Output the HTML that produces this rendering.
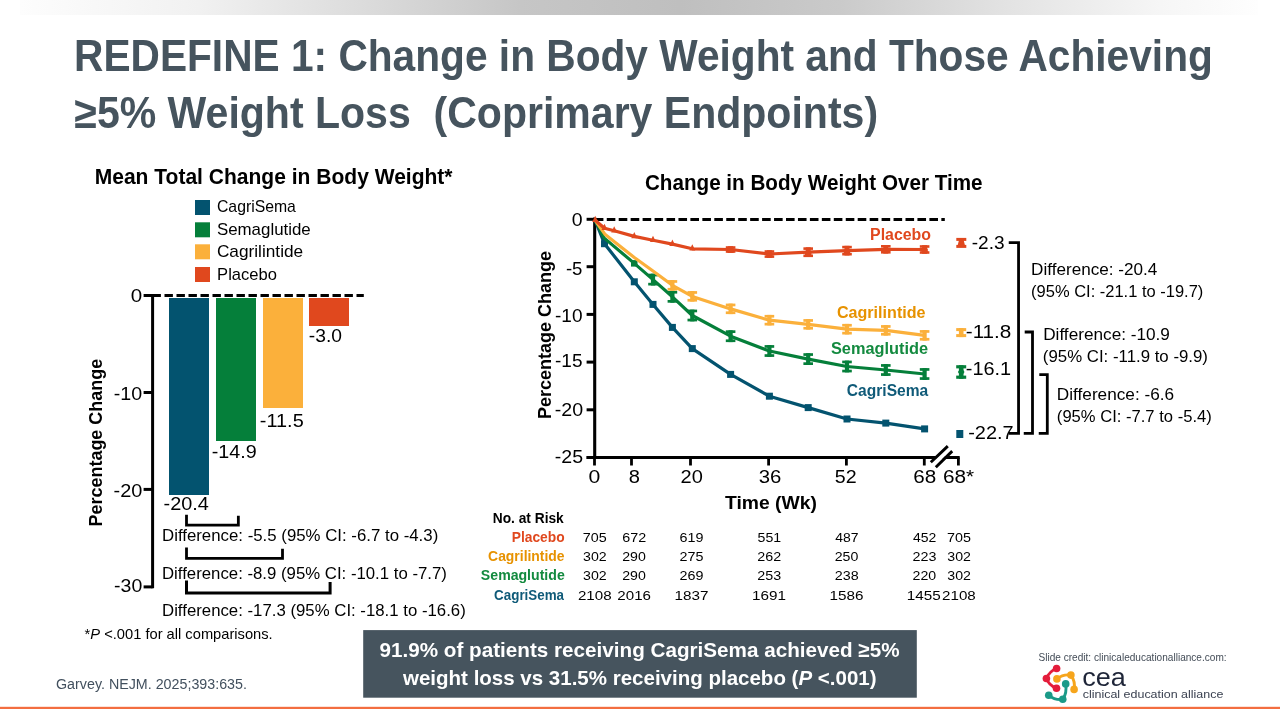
<!DOCTYPE html>
<html><head><meta charset="utf-8"><style>html,body{margin:0;padding:0;background:#fff;width:1280px;height:720px;overflow:hidden}svg text{white-space:pre}</style></head>
<body><svg width="1280" height="720" viewBox="0 0 1280 720" font-family="'Liberation Sans', sans-serif" style="display:block;will-change:transform">
<defs><linearGradient id="g1" x1="0" x2="1" y1="0" y2="0"><stop offset="0" stop-color="#fdfdfd"/><stop offset="0.145" stop-color="#f1f1f1"/><stop offset="0.275" stop-color="#dcdcdc"/><stop offset="0.404" stop-color="#c6c6c6"/><stop offset="0.533" stop-color="#bfbfbf"/><stop offset="0.662" stop-color="#cacaca"/><stop offset="0.792" stop-color="#e2e2e2"/><stop offset="0.921" stop-color="#f6f6f6"/><stop offset="1" stop-color="#fefefe"/></linearGradient></defs>
<rect x="20" y="0" width="1238" height="15" fill="url(#g1)"/>
<rect x="195" y="200" width="15" height="15" fill="#03536F"/>
<rect x="195" y="222.3" width="15" height="15" fill="#057F3A"/>
<rect x="195" y="244.3" width="15" height="15" fill="#FBB03B"/>
<rect x="195" y="267" width="15" height="15" fill="#E0481E"/>
<rect x="169" y="298" width="40" height="197.0" fill="#03536F"/>
<rect x="216" y="298" width="40" height="143.0" fill="#057F3A"/>
<rect x="263" y="298" width="40" height="110.0" fill="#FBB03B"/>
<rect x="309" y="298" width="40" height="28.0" fill="#E0481E"/>
<path d="M152.6,294 V588.2" stroke="#000" stroke-width="3" fill="none"/>
<path d="M143.6,295.5 H152.6" stroke="#000" stroke-width="3"/>
<path d="M143.6,392.5 H152.6" stroke="#000" stroke-width="3"/>
<path d="M143.6,489.4 H152.6" stroke="#000" stroke-width="3"/>
<path d="M143.6,586.9 H152.6" stroke="#000" stroke-width="3"/>
<path d="M152.5,295.5 H363.8" stroke="#000" stroke-width="3" stroke-dasharray="8.4 3.6"/>
<path d="M186.5,514.7 V525.2 H238.35 V515.8" stroke="#000" stroke-width="2.8" fill="none"/>
<path d="M186.5,547.5 V558.35 H282.5 V548.7" stroke="#000" stroke-width="2.8" fill="none"/>
<path d="M186.5,580.5 V593.1 H330.1 V582" stroke="#000" stroke-width="3" fill="none"/>
<path d="M594.8,219.5 H944.8" stroke="#000" stroke-width="2.8" stroke-dasharray="8.6 3.35"/>
<path d="M594.7,217.5 V459" stroke="#000" stroke-width="3.1" fill="none"/>
<path d="M586.6,219.3 H594.7" stroke="#000" stroke-width="3"/>
<path d="M586.6,266.7 H594.7" stroke="#000" stroke-width="3"/>
<path d="M586.6,314.4 H594.7" stroke="#000" stroke-width="3"/>
<path d="M586.6,362.1 H594.7" stroke="#000" stroke-width="3"/>
<path d="M586.6,409.8 H594.7" stroke="#000" stroke-width="3"/>
<path d="M586.6,457.5 H594.7" stroke="#000" stroke-width="3"/>
<path d="M586.6,457.6 H959.7" stroke="#000" stroke-width="3"/>
<path d="M594.5,457.5 V465.5" stroke="#000" stroke-width="2.8"/>
<path d="M631.5,457.5 V465.5" stroke="#000" stroke-width="2.8"/>
<path d="M690.5,457.5 V465.5" stroke="#000" stroke-width="2.8"/>
<path d="M768.6,457.5 V465.5" stroke="#000" stroke-width="2.8"/>
<path d="M846.4,457.5 V465.5" stroke="#000" stroke-width="2.8"/>
<path d="M924.3,457.5 V465.5" stroke="#000" stroke-width="2.8"/>
<path d="M958.4,457.5 V465.5" stroke="#000" stroke-width="2.8"/>
<path d="M932.3,465.3 L951,447.4" stroke="#fff" stroke-width="4.6"/>
<path d="M930.8,462.2 L947.8,446.1 M935.8,467.2 L952.2,451.1" stroke="#000" stroke-width="2.9"/>
<path d="M595.2,220.3 L604.5,243.7 L634.3,281.8 L653.0,304.4 L672.4,327.4 L692.3,348.6 L730.6,374.4 L769.4,396.2 L808.2,407.6 L847.0,419.0 L885.8,423.1 L924.6,428.9" stroke="#03536F" stroke-width="3.2" fill="none" stroke-linejoin="round"/>
<rect x="601.0" y="240.2" width="7" height="7" fill="#03536F"/>
<rect x="630.8" y="278.3" width="7" height="7" fill="#03536F"/>
<rect x="649.5" y="300.9" width="7" height="7" fill="#03536F"/>
<rect x="668.9" y="323.9" width="7" height="7" fill="#03536F"/>
<rect x="688.8" y="345.1" width="7" height="7" fill="#03536F"/>
<rect x="727.1" y="370.9" width="7" height="7" fill="#03536F"/>
<rect x="765.9" y="392.7" width="7" height="7" fill="#03536F"/>
<rect x="804.7" y="404.1" width="7" height="7" fill="#03536F"/>
<rect x="843.5" y="415.5" width="7" height="7" fill="#03536F"/>
<rect x="882.3" y="419.6" width="7" height="7" fill="#03536F"/>
<rect x="921.1" y="425.4" width="7" height="7" fill="#03536F"/>
<path d="M595.2,220.3 L604.0,237.9 L634.3,263.4 L653.0,279.6 L672.4,296.8 L692.3,315.5 L730.6,336.2 L769.4,351.0 L808.2,359.1 L847.0,366.5 L885.8,370.0 L924.6,374.0" stroke="#057F3A" stroke-width="3.2" fill="none" stroke-linejoin="round"/>
<rect x="631.0" y="260.1" width="6.5" height="6.5" fill="#057F3A"/>
<rect x="648.2" y="273.7" width="9.6" height="2.7" fill="#057F3A"/><rect x="648.2" y="282.8" width="9.6" height="2.7" fill="#057F3A"/><rect x="650.9" y="273.7" width="4.2" height="11.8" fill="#057F3A"/>
<rect x="667.6" y="290.9" width="9.6" height="2.7" fill="#057F3A"/><rect x="667.6" y="300.0" width="9.6" height="2.7" fill="#057F3A"/><rect x="670.3" y="290.9" width="4.2" height="11.8" fill="#057F3A"/>
<rect x="687.5" y="309.6" width="9.6" height="2.7" fill="#057F3A"/><rect x="687.5" y="318.7" width="9.6" height="2.7" fill="#057F3A"/><rect x="690.2" y="309.6" width="4.2" height="11.8" fill="#057F3A"/>
<rect x="725.8" y="330.3" width="9.6" height="2.7" fill="#057F3A"/><rect x="725.8" y="339.4" width="9.6" height="2.7" fill="#057F3A"/><rect x="728.5" y="330.3" width="4.2" height="11.8" fill="#057F3A"/>
<rect x="764.6" y="345.1" width="9.6" height="2.7" fill="#057F3A"/><rect x="764.6" y="354.2" width="9.6" height="2.7" fill="#057F3A"/><rect x="767.3" y="345.1" width="4.2" height="11.8" fill="#057F3A"/>
<rect x="803.4" y="353.2" width="9.6" height="2.7" fill="#057F3A"/><rect x="803.4" y="362.3" width="9.6" height="2.7" fill="#057F3A"/><rect x="806.1" y="353.2" width="4.2" height="11.8" fill="#057F3A"/>
<rect x="842.2" y="360.6" width="9.6" height="2.7" fill="#057F3A"/><rect x="842.2" y="369.7" width="9.6" height="2.7" fill="#057F3A"/><rect x="844.9" y="360.6" width="4.2" height="11.8" fill="#057F3A"/>
<rect x="881.0" y="364.1" width="9.6" height="2.7" fill="#057F3A"/><rect x="881.0" y="373.2" width="9.6" height="2.7" fill="#057F3A"/><rect x="883.7" y="364.1" width="4.2" height="11.8" fill="#057F3A"/>
<rect x="919.8" y="368.1" width="9.6" height="2.7" fill="#057F3A"/><rect x="919.8" y="377.2" width="9.6" height="2.7" fill="#057F3A"/><rect x="922.5" y="368.1" width="4.2" height="11.8" fill="#057F3A"/>
<path d="M595.2,220.3 L605.2,234.6 L634.3,257.5 L653.0,271.0 L672.4,285.3 L692.3,296.4 L730.6,308.9 L769.4,320.2 L808.2,324.3 L847.0,329.2 L885.8,330.4 L924.6,335.3" stroke="#FBB03B" stroke-width="3.2" fill="none" stroke-linejoin="round"/>
<rect x="667.6" y="280.1" width="9.6" height="2.7" fill="#FBB03B"/><rect x="667.6" y="287.9" width="9.6" height="2.7" fill="#FBB03B"/><rect x="670.3" y="280.1" width="4.2" height="10.5" fill="#FBB03B"/>
<rect x="687.5" y="291.1" width="9.6" height="2.7" fill="#FBB03B"/><rect x="687.5" y="298.9" width="9.6" height="2.7" fill="#FBB03B"/><rect x="690.2" y="291.1" width="4.2" height="10.5" fill="#FBB03B"/>
<rect x="725.8" y="303.6" width="9.6" height="2.7" fill="#FBB03B"/><rect x="725.8" y="311.4" width="9.6" height="2.7" fill="#FBB03B"/><rect x="728.5" y="303.6" width="4.2" height="10.5" fill="#FBB03B"/>
<rect x="764.6" y="314.9" width="9.6" height="2.7" fill="#FBB03B"/><rect x="764.6" y="322.8" width="9.6" height="2.7" fill="#FBB03B"/><rect x="767.3" y="314.9" width="4.2" height="10.5" fill="#FBB03B"/>
<rect x="803.4" y="319.1" width="9.6" height="2.7" fill="#FBB03B"/><rect x="803.4" y="326.9" width="9.6" height="2.7" fill="#FBB03B"/><rect x="806.1" y="319.1" width="4.2" height="10.5" fill="#FBB03B"/>
<rect x="842.2" y="323.9" width="9.6" height="2.7" fill="#FBB03B"/><rect x="842.2" y="331.8" width="9.6" height="2.7" fill="#FBB03B"/><rect x="844.9" y="323.9" width="4.2" height="10.5" fill="#FBB03B"/>
<rect x="881.0" y="325.1" width="9.6" height="2.7" fill="#FBB03B"/><rect x="881.0" y="332.9" width="9.6" height="2.7" fill="#FBB03B"/><rect x="883.7" y="325.1" width="4.2" height="10.5" fill="#FBB03B"/>
<rect x="919.8" y="330.1" width="9.6" height="2.7" fill="#FBB03B"/><rect x="919.8" y="337.9" width="9.6" height="2.7" fill="#FBB03B"/><rect x="922.5" y="330.1" width="4.2" height="10.5" fill="#FBB03B"/>
<path d="M595.2,220.3 L604.5,228.2 L614.2,230.8 L634.3,236.4 L653.0,240.2 L672.4,244.1 L692.3,248.8 L730.6,249.5 L769.4,254.0 L808.2,252.2 L847.0,250.7 L885.8,249.3 L924.6,249.5" stroke="#E0481E" stroke-width="3.2" fill="none" stroke-linejoin="round"/>
<path d="M595.2,215.8 L598.2,222.1 L592.2,222.1 Z" fill="#E0481E"/>
<path d="M604.5,223.7 L607.5,230.0 L601.5,230.0 Z" fill="#E0481E"/>
<path d="M614.2,226.3 L617.2,232.6 L611.2,232.6 Z" fill="#E0481E"/>
<path d="M634.3,231.9 L637.3,238.2 L631.3,238.2 Z" fill="#E0481E"/>
<path d="M653.0,235.7 L656.0,242.0 L650.0,242.0 Z" fill="#E0481E"/>
<path d="M672.4,239.6 L675.4,245.9 L669.4,245.9 Z" fill="#E0481E"/>
<path d="M692.3,244.3 L695.3,250.6 L689.3,250.6 Z" fill="#E0481E"/>
<rect x="725.8" y="246.2" width="9.6" height="2.6" fill="#E0481E"/><rect x="725.8" y="250.2" width="9.6" height="2.6" fill="#E0481E"/><rect x="728.1" y="246.2" width="5" height="6.6" fill="#E0481E"/>
<rect x="727.4" y="248.6" width="6.4" height="4.2" fill="#E0481E"/>
<rect x="764.6" y="250.2" width="9.6" height="2.6" fill="#E0481E"/><rect x="764.6" y="255.3" width="9.6" height="2.6" fill="#E0481E"/><rect x="766.9" y="250.2" width="5" height="7.7" fill="#E0481E"/>
<rect x="766.2" y="253.1" width="6.4" height="4.2" fill="#E0481E"/>
<rect x="803.4" y="247.3" width="9.6" height="2.6" fill="#E0481E"/><rect x="803.4" y="254.5" width="9.6" height="2.6" fill="#E0481E"/><rect x="805.7" y="247.3" width="5" height="9.7" fill="#E0481E"/>
<rect x="805.0" y="251.3" width="6.4" height="4.2" fill="#E0481E"/>
<rect x="842.2" y="245.8" width="9.6" height="2.6" fill="#E0481E"/><rect x="842.2" y="252.9" width="9.6" height="2.6" fill="#E0481E"/><rect x="844.5" y="245.8" width="5" height="9.7" fill="#E0481E"/>
<rect x="843.8" y="249.8" width="6.4" height="4.2" fill="#E0481E"/>
<rect x="881.0" y="245.0" width="9.6" height="2.6" fill="#E0481E"/><rect x="881.0" y="251.0" width="9.6" height="2.6" fill="#E0481E"/><rect x="883.3" y="245.0" width="5" height="8.6" fill="#E0481E"/>
<rect x="882.6" y="248.4" width="6.4" height="4.2" fill="#E0481E"/>
<rect x="919.8" y="245.2" width="9.6" height="2.6" fill="#E0481E"/><rect x="919.8" y="251.2" width="9.6" height="2.6" fill="#E0481E"/><rect x="922.1" y="245.2" width="5" height="8.6" fill="#E0481E"/>
<rect x="921.4" y="248.6" width="6.4" height="4.2" fill="#E0481E"/>
<rect x="956.3" y="237.9" width="10" height="3" fill="#E0481E"/><rect x="956.3" y="244.9" width="10" height="3" fill="#E0481E"/><path d="M959,240 L963.6,240 L965,245.5 L957.6,245.5 Z" fill="#E0481E"/>
<rect x="956.2" y="328.1" width="10" height="3" fill="#FBB03B"/><rect x="956.2" y="334.1" width="10" height="3" fill="#FBB03B"/><rect x="958.9" y="328.1" width="4.6" height="9.0" fill="#FBB03B"/>
<rect x="956.2" y="365.2" width="10" height="3.2" fill="#057F3A"/><rect x="956.2" y="375.6" width="10" height="3.2" fill="#057F3A"/><rect x="958.9" y="365.2" width="4.6" height="13.6" fill="#057F3A"/>
<path d="M961.2,367 L964.5,372 L961.2,377 L957.9,372 Z" fill="#057F3A"/>
<rect x="956.3" y="430" width="7" height="8" fill="#03536F"/>
<path d="M1008.75,242.6 H1018.55 V433.3 H1008.75" stroke="#000" stroke-width="2.8" fill="none"/>
<path d="M1024.7,332 H1032.5 V433.3 H1023.75" stroke="#000" stroke-width="2.8" fill="none"/>
<path d="M1039.3,374.7 H1047.3 V433.3 H1038.75" stroke="#000" stroke-width="2.8" fill="none"/>
<rect x="363.2" y="630.1" width="553.6" height="67.6" fill="#46545E"/>
<rect x="0" y="706.8" width="1280" height="2.2" fill="#F36E40"/>
<path d="M1056.6,668.5 Q1049.24,671.24 1046.4,678.5 Q1048.98,685.44 1056.5,688.3" stroke="#E41C3B" stroke-width="2.9" fill="none" stroke-linecap="round"/><circle cx="1056.6" cy="668.5" r="3.8" fill="#E41C3B"/><circle cx="1046.4" cy="678.5" r="3.8" fill="#E41C3B"/><circle cx="1056.5" cy="688.3" r="3.8" fill="#E41C3B"/><path d="M1056.9,678.9 Q1063.09,673.90 1070.9,675.1 Q1075.61,681.50 1074.1,689.4" stroke="#F6A51C" stroke-width="2.9" fill="none" stroke-linecap="round"/><circle cx="1056.9" cy="678.9" r="3.8" fill="#F6A51C"/><circle cx="1070.9" cy="675.1" r="3.8" fill="#F6A51C"/><circle cx="1074.1" cy="689.4" r="3.8" fill="#F6A51C"/><path d="M1065.7,683.9 Q1067.17,692.86 1062.75,699.3 Q1055.48,700.49 1048.75,695.3" stroke="#1B9A88" stroke-width="2.9" fill="none" stroke-linecap="round"/><circle cx="1065.7" cy="683.9" r="3.8" fill="#1B9A88"/><circle cx="1062.75" cy="699.3" r="3.8" fill="#1B9A88"/><circle cx="1048.75" cy="695.3" r="3.8" fill="#1B9A88"/>
<text x="74.03" y="70.50" textLength="1138.82" lengthAdjust="spacingAndGlyphs" font-size="44" font-weight="bold" fill="#46545E">REDEFINE 1: Change in Body Weight and Those Achieving</text>
<text x="74.37" y="128.10" textLength="803.70" lengthAdjust="spacingAndGlyphs" font-size="44" font-weight="bold" fill="#46545E">≥5% Weight Loss  (Coprimary Endpoints)</text>
<text x="94.73" y="183.70" textLength="357.83" lengthAdjust="spacingAndGlyphs" font-size="21.5" font-weight="bold">Mean Total Change in Body Weight*</text>
<text x="216.98" y="211.50" textLength="78.92" lengthAdjust="spacingAndGlyphs" font-size="16.4">CagriSema</text>
<text x="216.93" y="234.70" textLength="93.82" lengthAdjust="spacingAndGlyphs" font-size="16.4">Semaglutide</text>
<text x="216.91" y="256.50" textLength="86.28" lengthAdjust="spacingAndGlyphs" font-size="16.4">Cagrilintide</text>
<text x="217.14" y="279.70" textLength="59.80" lengthAdjust="spacingAndGlyphs" font-size="16.4">Placebo</text>
<text x="130.84" y="301.80" textLength="11.43" lengthAdjust="spacingAndGlyphs" font-size="18">0</text>
<text x="113.68" y="400.00" textLength="28.40" lengthAdjust="spacingAndGlyphs" font-size="18">-10</text>
<text x="113.57" y="496.90" textLength="28.78" lengthAdjust="spacingAndGlyphs" font-size="18">-20</text>
<text x="114.09" y="592.20" textLength="28.14" lengthAdjust="spacingAndGlyphs" font-size="18">-30</text>
<text x="163.56" y="509.70" textLength="45.33" lengthAdjust="spacingAndGlyphs" font-size="17.8">-20.4</text>
<text x="211.67" y="457.80" textLength="45.00" lengthAdjust="spacingAndGlyphs" font-size="17.8">-14.9</text>
<text x="259.86" y="426.60" textLength="43.84" lengthAdjust="spacingAndGlyphs" font-size="17.8">-11.5</text>
<text x="308.89" y="341.80" textLength="33.21" lengthAdjust="spacingAndGlyphs" font-size="17.8">-3.0</text>
<text transform="translate(101.90,0) rotate(-90)" x="-526.40" y="0" textLength="167.53" lengthAdjust="spacingAndGlyphs" font-size="18.75" font-weight="bold">Percentage Change</text>
<text x="162.02" y="540.50" textLength="276.22" lengthAdjust="spacingAndGlyphs" font-size="16.4">Difference: -5.5 (95% CI: -6.7 to -4.3)</text>
<text x="162.02" y="578.80" textLength="284.87" lengthAdjust="spacingAndGlyphs" font-size="16.4">Difference: -8.9 (95% CI: -10.1 to -7.7)</text>
<text x="162.02" y="616.30" textLength="303.76" lengthAdjust="spacingAndGlyphs" font-size="16.4">Difference: -17.3 (95% CI: -18.1 to -16.6)</text>
<text x="84.55" y="638.75" textLength="188.17" lengthAdjust="spacingAndGlyphs" font-size="14.5">*<tspan font-style="italic">P</tspan> &lt;.001 for all comparisons.</text>
<text x="644.93" y="189.70" textLength="337.68" lengthAdjust="spacingAndGlyphs" font-size="21.4" font-weight="bold">Change in Body Weight Over Time</text>
<text x="571.69" y="226.40" textLength="10.84" lengthAdjust="spacingAndGlyphs" font-size="18">0</text>
<text x="565.92" y="275.10" textLength="16.57" lengthAdjust="spacingAndGlyphs" font-size="18">-5</text>
<text x="555.01" y="321.50" textLength="27.50" lengthAdjust="spacingAndGlyphs" font-size="18">-10</text>
<text x="555.01" y="367.30" textLength="27.50" lengthAdjust="spacingAndGlyphs" font-size="18">-15</text>
<text x="554.78" y="415.70" textLength="28.35" lengthAdjust="spacingAndGlyphs" font-size="18">-20</text>
<text x="554.79" y="463.20" textLength="28.25" lengthAdjust="spacingAndGlyphs" font-size="18">-25</text>
<text x="588.62" y="482.50" textLength="11.78" lengthAdjust="spacingAndGlyphs" font-size="18">0</text>
<text x="628.86" y="482.50" textLength="11.19" lengthAdjust="spacingAndGlyphs" font-size="18">8</text>
<text x="680.59" y="482.50" textLength="22.28" lengthAdjust="spacingAndGlyphs" font-size="18">20</text>
<text x="758.65" y="482.50" textLength="22.63" lengthAdjust="spacingAndGlyphs" font-size="18">36</text>
<text x="834.88" y="482.50" textLength="21.84" lengthAdjust="spacingAndGlyphs" font-size="18">52</text>
<text x="913.25" y="482.50" textLength="22.94" lengthAdjust="spacingAndGlyphs" font-size="18">68</text>
<text x="942.95" y="482.50" textLength="31.18" lengthAdjust="spacingAndGlyphs" font-size="18">68*</text>
<text x="724.94" y="509.00" textLength="91.90" lengthAdjust="spacingAndGlyphs" font-size="18.9" font-weight="bold">Time (Wk)</text>
<text transform="translate(550.80,0) rotate(-90)" x="-419.12" y="0" textLength="168.01" lengthAdjust="spacingAndGlyphs" font-size="18.4" font-weight="bold">Percentage Change</text>
<text x="870.11" y="239.70" textLength="60.90" lengthAdjust="spacingAndGlyphs" font-size="16" font-weight="bold" fill="#E0481E">Placebo</text>
<text x="836.95" y="317.60" textLength="88.57" lengthAdjust="spacingAndGlyphs" font-size="16" font-weight="bold" fill="#E79200">Cagrilintide</text>
<text x="830.99" y="353.50" textLength="97.06" lengthAdjust="spacingAndGlyphs" font-size="16" font-weight="bold" fill="#138A3F">Semaglutide</text>
<text x="846.87" y="395.90" textLength="81.28" lengthAdjust="spacingAndGlyphs" font-size="16" font-weight="bold" fill="#0F5A78">CagriSema</text>
<text x="971.71" y="249.20" textLength="32.87" lengthAdjust="spacingAndGlyphs" font-size="18">-2.3</text>
<text x="965.74" y="338.10" textLength="45.67" lengthAdjust="spacingAndGlyphs" font-size="18">-11.8</text>
<text x="965.77" y="374.70" textLength="45.39" lengthAdjust="spacingAndGlyphs" font-size="18">-16.1</text>
<text x="968.17" y="439.00" textLength="45.47" lengthAdjust="spacingAndGlyphs" font-size="18">-22.7</text>
<text x="1031.07" y="274.70" textLength="126.19" lengthAdjust="spacingAndGlyphs" font-size="16.1">Difference: -20.4</text>
<text x="1031.08" y="297.30" textLength="172.27" lengthAdjust="spacingAndGlyphs" font-size="16.1">(95% CI: -21.1 to -19.7)</text>
<text x="1043.16" y="339.90" textLength="126.77" lengthAdjust="spacingAndGlyphs" font-size="16.1">Difference: -10.9</text>
<text x="1042.86" y="361.60" textLength="165.12" lengthAdjust="spacingAndGlyphs" font-size="16.1">(95% CI: -11.9 to -9.9)</text>
<text x="1056.86" y="399.80" textLength="117.22" lengthAdjust="spacingAndGlyphs" font-size="16.1">Difference: -6.6</text>
<text x="1056.87" y="421.60" textLength="154.89" lengthAdjust="spacingAndGlyphs" font-size="16.1">(95% CI: -7.7 to -5.4)</text>
<text x="492.75" y="522.70" textLength="71.01" lengthAdjust="spacingAndGlyphs" font-size="13.8" font-weight="bold">No. at Risk</text>
<text x="511.70" y="541.60" textLength="52.92" lengthAdjust="spacingAndGlyphs" font-size="13.8" font-weight="bold" fill="#E0481E">Placebo</text>
<text x="488.10" y="560.50" textLength="76.50" lengthAdjust="spacingAndGlyphs" font-size="13.8" font-weight="bold" fill="#E79200">Cagrilintide</text>
<text x="480.89" y="580.10" textLength="83.87" lengthAdjust="spacingAndGlyphs" font-size="13.8" font-weight="bold" fill="#138A3F">Semaglutide</text>
<text x="494.11" y="599.50" textLength="69.93" lengthAdjust="spacingAndGlyphs" font-size="13.8" font-weight="bold" fill="#0F5A78">CagriSema</text>
<text x="582.82" y="541.90" textLength="23.90" lengthAdjust="spacingAndGlyphs" font-size="13">705</text>
<text x="622.22" y="541.90" textLength="23.90" lengthAdjust="spacingAndGlyphs" font-size="13">672</text>
<text x="679.62" y="541.90" textLength="23.90" lengthAdjust="spacingAndGlyphs" font-size="13">619</text>
<text x="757.61" y="541.90" textLength="23.61" lengthAdjust="spacingAndGlyphs" font-size="13">551</text>
<text x="835.28" y="541.90" textLength="23.32" lengthAdjust="spacingAndGlyphs" font-size="13">487</text>
<text x="913.08" y="541.90" textLength="23.32" lengthAdjust="spacingAndGlyphs" font-size="13">452</text>
<text x="947.02" y="541.90" textLength="23.90" lengthAdjust="spacingAndGlyphs" font-size="13">705</text>
<text x="583.11" y="560.80" textLength="23.61" lengthAdjust="spacingAndGlyphs" font-size="13">302</text>
<text x="622.23" y="560.80" textLength="23.61" lengthAdjust="spacingAndGlyphs" font-size="13">290</text>
<text x="679.62" y="560.80" textLength="23.90" lengthAdjust="spacingAndGlyphs" font-size="13">275</text>
<text x="757.32" y="560.80" textLength="23.90" lengthAdjust="spacingAndGlyphs" font-size="13">262</text>
<text x="834.73" y="560.80" textLength="23.61" lengthAdjust="spacingAndGlyphs" font-size="13">250</text>
<text x="912.52" y="560.80" textLength="23.90" lengthAdjust="spacingAndGlyphs" font-size="13">223</text>
<text x="947.31" y="560.80" textLength="23.61" lengthAdjust="spacingAndGlyphs" font-size="13">302</text>
<text x="583.11" y="580.40" textLength="23.61" lengthAdjust="spacingAndGlyphs" font-size="13">302</text>
<text x="622.23" y="580.40" textLength="23.61" lengthAdjust="spacingAndGlyphs" font-size="13">290</text>
<text x="679.62" y="580.40" textLength="23.90" lengthAdjust="spacingAndGlyphs" font-size="13">269</text>
<text x="757.32" y="580.40" textLength="23.90" lengthAdjust="spacingAndGlyphs" font-size="13">253</text>
<text x="834.72" y="580.40" textLength="23.90" lengthAdjust="spacingAndGlyphs" font-size="13">238</text>
<text x="912.53" y="580.40" textLength="23.61" lengthAdjust="spacingAndGlyphs" font-size="13">220</text>
<text x="947.31" y="580.40" textLength="23.61" lengthAdjust="spacingAndGlyphs" font-size="13">302</text>
<text x="577.93" y="599.80" textLength="33.65" lengthAdjust="spacingAndGlyphs" font-size="13">2108</text>
<text x="617.33" y="599.80" textLength="33.65" lengthAdjust="spacingAndGlyphs" font-size="13">2016</text>
<text x="674.43" y="599.80" textLength="33.96" lengthAdjust="spacingAndGlyphs" font-size="13">1837</text>
<text x="752.13" y="599.80" textLength="33.96" lengthAdjust="spacingAndGlyphs" font-size="13">1691</text>
<text x="829.53" y="599.80" textLength="33.96" lengthAdjust="spacingAndGlyphs" font-size="13">1586</text>
<text x="906.83" y="599.80" textLength="33.96" lengthAdjust="spacingAndGlyphs" font-size="13">1455</text>
<text x="942.13" y="599.80" textLength="33.65" lengthAdjust="spacingAndGlyphs" font-size="13">2108</text>
<text x="379.56" y="656.80" textLength="520.02" lengthAdjust="spacingAndGlyphs" font-size="21" font-weight="bold" fill="#fff">91.9% of patients receiving CagriSema achieved ≥5%</text>
<text x="403.00" y="685.20" textLength="473.56" lengthAdjust="spacingAndGlyphs" font-size="21" font-weight="bold" fill="#fff">weight loss vs 31.5% receiving placebo (<tspan font-style="italic">P</tspan> &lt;.001)</text>
<text x="56.02" y="688.60" textLength="190.95" lengthAdjust="spacingAndGlyphs" font-size="13.8" fill="#42505E">Garvey. NEJM. 2025;393:635.</text>
<text x="1038.51" y="661.00" textLength="188.10" lengthAdjust="spacingAndGlyphs" font-size="10.2" fill="#434C57">Slide credit: clinicaleducationalliance.com:</text>
<text x="1082.26" y="686.30" textLength="43.66" lengthAdjust="spacingAndGlyphs" font-size="26" fill="#1E2538">cea</text>
<text x="1082.76" y="698.20" textLength="140.62" lengthAdjust="spacingAndGlyphs" font-size="11.5" fill="#3A4150">clinical education alliance</text>
</svg></body></html>
